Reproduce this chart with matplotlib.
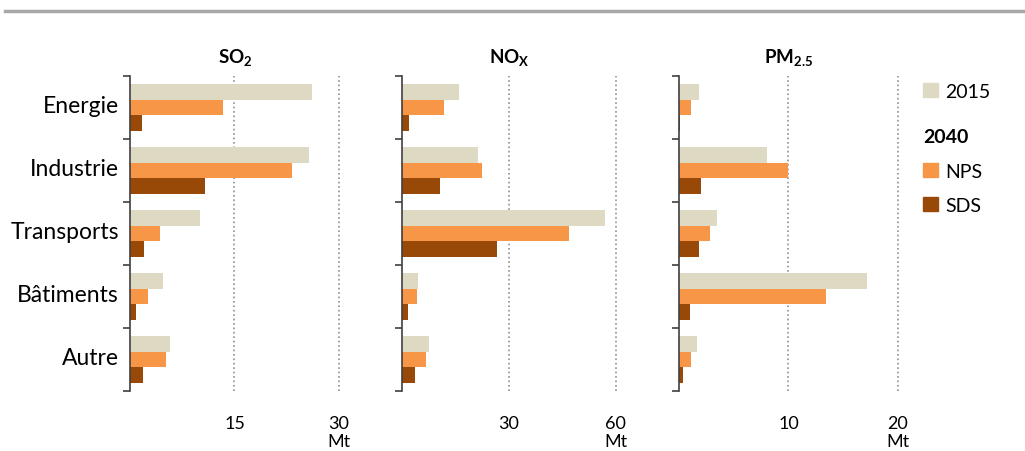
import matplotlib
matplotlib.use('Agg')
import matplotlib.pyplot as plt
from matplotlib.patches import Patch
from matplotlib.lines import Line2D
import numpy as np

plt.rcParams['font.family'] = ['Lato', 'DejaVu Sans']
plt.rcParams['mathtext.fontset'] = 'custom'
plt.rcParams['mathtext.rm'] = 'Lato'
plt.rcParams['mathtext.bf'] = 'Lato:bold'

categories = ['Energie', 'Industrie', 'Transports', 'Bâtiments', 'Autre']

so2_2015 = [26.1, 25.7, 10.1, 4.7, 5.8]
so2_nps = [13.4, 23.3, 4.3, 2.6, 5.2]
so2_sds = [1.7, 10.7, 2.0, 0.9, 1.8]

nox_2015 = [16.1, 21.4, 56.9, 4.4, 7.5]
nox_nps = [11.7, 22.5, 46.9, 4.3, 6.7]
nox_sds = [1.9, 10.6, 26.7, 1.7, 3.6]

pm_2015 = [1.8, 8.0, 3.5, 17.2, 1.6]
pm_nps = [1.1, 10.0, 2.8, 13.4, 1.1]
pm_sds = [0.1, 2.0, 1.8, 1.0, 0.4]

titles = [r'$\mathbf{SO_2}$', r'$\mathbf{NO_X}$', r'$\mathbf{PM_{2.5}}$']
xmaxes = [30, 60, 20]
tick_vals = [[15, 30], [30, 60], [10, 20]]

colors = {'2015': '#DDD9C3', 'NPS': '#F79646', 'SDS': '#984807'}

W, H = 1025, 452
fig = plt.figure(figsize=(W / 100, H / 100), dpi=100)

# axes placement in pixels: (left, width)
panels = [(130, 210), (402, 215), (679, 220)]
top, bottom = 77, 392

series = [
    (so2_2015, so2_nps, so2_sds),
    (nox_2015, nox_nps, nox_sds),
    (pm_2015, pm_nps, pm_sds),
]

y = np.arange(len(categories))
h = 0.25

for i, ((left, width), (v15, vnps, vsds)) in enumerate(zip(panels, series)):
    ax = fig.add_axes([left / W, 1 - bottom / H, width / W, (bottom - top) / H])
    ax.barh(y - h, v15, height=h, color=colors['2015'])
    ax.barh(y, vnps, height=h, color=colors['NPS'])
    ax.barh(y + h, vsds, height=h, color=colors['SDS'])

    xm = xmaxes[i]
    ax.set_xlim(0, xm * 1.005)
    ax.set_ylim(len(categories) - 0.5, -0.5)
    for t in tick_vals[i]:
        ax.axvline(t, color='#909090', ls=':', lw=1.2, zorder=0)

    for s in ['top', 'right', 'bottom']:
        ax.spines[s].set_visible(False)
    ax.spines['left'].set_color('#404040')
    ax.spines['left'].set_linewidth(1.2)

    ax.set_yticks(np.arange(len(categories) + 1) - 0.5)
    ax.set_yticklabels([])
    ax.tick_params(axis='y', which='major', length=5, width=1.2, color='#404040')
    ax.set_yticks(y - 0.06, minor=True)
    if i == 0:
        ax.set_yticklabels(categories, minor=True, fontsize=16.5)
    else:
        ax.set_yticklabels([], minor=True)
    ax.tick_params(axis='y', which='minor', length=0, pad=8)

    ax.set_xticks([0] + tick_vals[i])
    ax.set_xticklabels(['', str(tick_vals[i][0]), f'{tick_vals[i][1]}\nMt'], fontsize=13)
    ax.tick_params(axis='x', length=0, pad=17)
    for lab in ax.get_xticklabels():
        lab.set_linespacing(1.15)

    ax.set_title(titles[i], fontsize=13.5, pad=10)

# legend
leg1 = fig.legend(handles=[Patch(color=colors['2015'], label='2015')],
                  loc='upper left', bbox_to_anchor=(923 / W, 1 - 84 / H),
                  frameon=False, fontsize=14, handlelength=0.75, handleheight=0.75,
                  handletextpad=0.4, borderpad=0, borderaxespad=0)
leg2 = fig.legend(handles=[Patch(color=colors['NPS'], label='NPS'),
                           Patch(color=colors['SDS'], label='SDS')],
                  title='2040', title_fontproperties={'weight': 'bold', 'size': 14},
                  alignment='left',
                  loc='upper left', bbox_to_anchor=(923 / W, 1 - 129 / H),
                  frameon=False, fontsize=14, handlelength=0.75, handleheight=0.75,
                  handletextpad=0.4, borderpad=0, borderaxespad=0, labelspacing=0.9)

# top rule
fig.add_artist(Line2D([5 / W, 1.0], [1 - 12 / H, 1 - 12 / H], color='#A8A8A8', lw=2.5))

plt.savefig('out.png', dpi=100)
